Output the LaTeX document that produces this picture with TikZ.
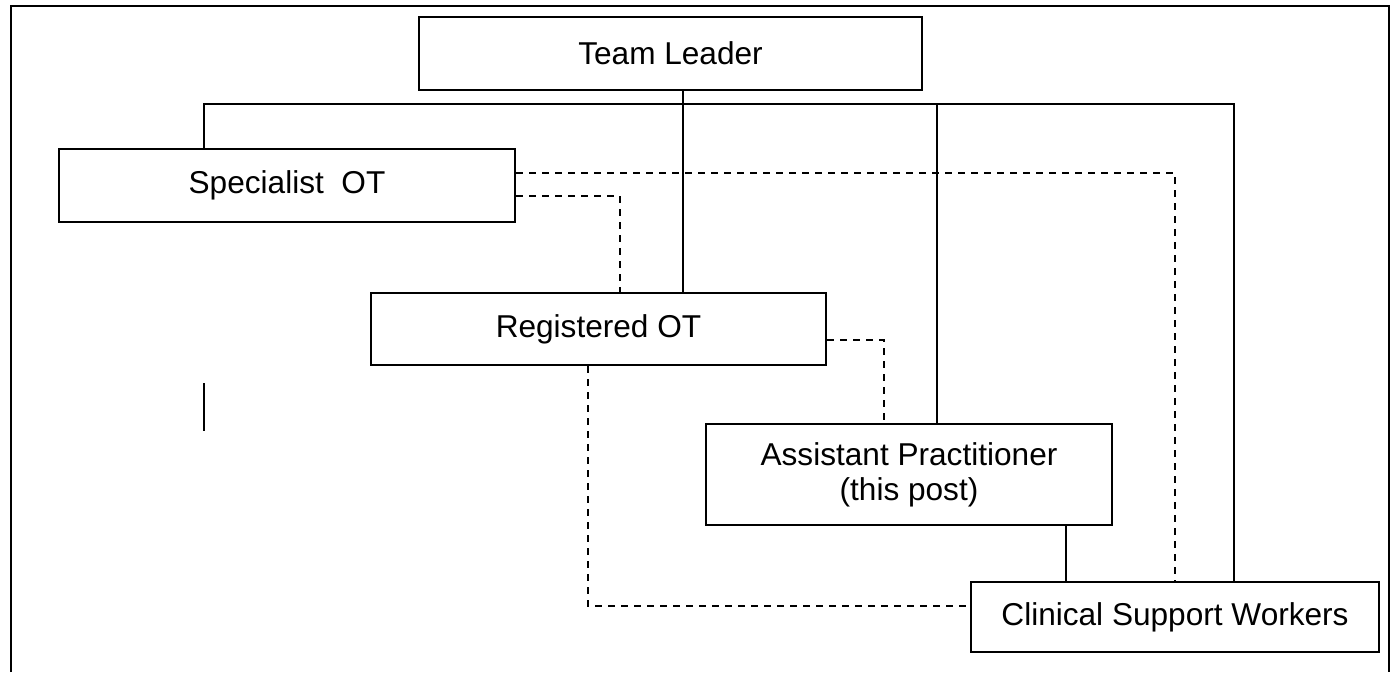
\documentclass[tikz,border=0pt]{standalone}
\usepackage{fontspec}
\setmainfont{Liberation Sans}
\begin{document}
\begin{tikzpicture}[x=1pt, y=-1pt,
		box/.style={draw, line width=2pt, inner sep=0pt, font=\fontsize{31.6}{35}\selectfont},
		link/.style={line width=2pt},
		dashlink/.style={line width=2pt, dash pattern=on 7pt off 6pt}]
			\useasboundingbox (0,0) rectangle (1391,672);
			\draw[line width=2.8pt] (11,672) -- (11,6) -- (1389,6) -- (1389,672);

			\node[box, minimum width=503pt, minimum height=73pt] (tl) at (670.5, 53.5) {Team Leader};
			\node[box, minimum width=456pt, minimum height=73pt] (spec) at (287, 185.5) {Specialist\ \ OT};
			\node[box, minimum width=455pt, minimum height=72pt] (reg) at (598.5, 329) {Registered OT};
			\node[box, minimum width=406pt, minimum height=101pt, align=center] (ap) at (909, 474.5) {Assistant Practitioner\\(this post)};
			\node[box, minimum width=408pt, minimum height=70pt] (csw) at (1175, 617) {Clinical Support Workers};

			\coordinate (busl) at (204, 104);
			\coordinate (busm) at (683, 104);
			\coordinate (busap) at (937, 104);
			\coordinate (busr) at (1234, 104);
			\coordinate (tick1) at (204, 383);
			\coordinate (tick2) at (204, 431);

			\draw[link] (spec.north -| busl) -- (busl) -- (busr) -- (csw.north -| busr);
			\draw[link] (tl.south -| busm) -- (reg.north -| busm);
			\draw[link] (busap) -- (ap.north -| busap);
			\draw[link] ([xshift=157pt]ap.south) -- ([xshift=157pt]ap.south |- csw.north);
			\draw[link] (tick1) -- (tick2);

			\draw[dashlink] ([yshift=12.5pt]spec.east) -| (csw.north);
			\draw[dashlink] ([yshift=-10.5pt]spec.east) -| ([xshift=21.5pt]reg.north);
			\draw[dashlink] ([yshift=-11pt]reg.east) -| ([xshift=-25pt]ap.north);
			\draw[dashlink] ([xshift=-10.5pt]reg.south) |- ([yshift=11pt]csw.west);
		\end{tikzpicture}
\end{document}
